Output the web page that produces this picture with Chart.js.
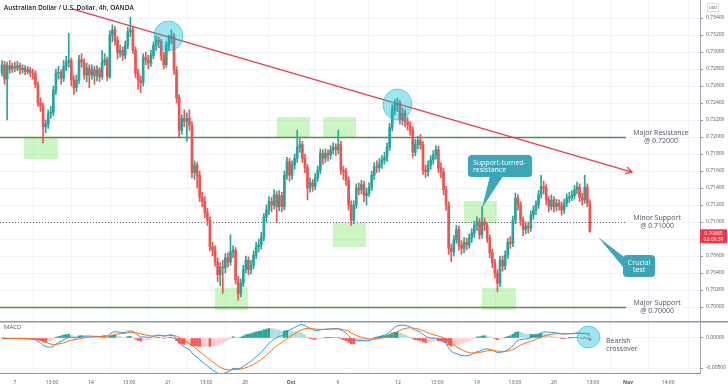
<!DOCTYPE html>
<html>
<head>
<meta charset="utf-8">
<script src="https://cdn.jsdelivr.net/npm/chart.js@4.4.0/dist/chart.umd.min.js"></script>
<style>
  html, body { margin: 0; padding: 0; background: #fff; }
  #wrap { position: relative; width: 728px; height: 391px; overflow: hidden; }
  #price { position: absolute; left: 0; top: 0; }
  #macd { position: absolute; left: 0; top: 321px; }
</style>
</head>
<body>
<div id="wrap">
  <canvas id="price" width="728" height="321"></canvas>
  <canvas id="macd" width="728" height="70"></canvas>
</div>
<script>
// AUD/USD 4h candles (open of each bar = previous close)
const firstOpen = 0.7276;
const closes = [
  0.7285,0.7268,0.7284,0.7280,0.7283,0.7281,0.7284,0.7279,0.7281,0.7277,
  0.7279,0.7276,0.7275,0.7262,0.7240,0.7237,0.7212,0.7215,0.7228,0.7229,
  0.7255,0.7275,0.7276,0.7269,0.7283,0.7288,0.7290,0.7267,0.7258,0.7267,
  0.7291,0.7288,0.7273,0.7281,0.7273,0.7279,0.7272,0.7279,0.7271,0.7288,
  0.7291,0.7271,0.7320,0.7326,0.7314,0.7299,0.7302,0.7296,0.7308,0.7324,
  0.7326,0.7302,0.7275,0.7267,0.7264,0.7294,0.7291,0.7287,0.7296,0.7308,
  0.7314,0.7312,0.7296,0.7285,0.7308,0.7316,0.7318,0.7279,0.7246,0.7208,
  0.7222,0.7218,0.7222,0.7214,0.7158,0.7167,0.7155,0.7129,0.7124,0.7111,
  0.7102,0.7071,0.7067,0.7053,0.7038,0.7047,0.7046,0.7058,0.7053,0.7065,
  0.7067,0.7032,0.7016,0.7028,0.7044,0.7055,0.7044,0.7049,0.7061,0.7071,
  0.7073,0.7082,0.7106,0.7114,0.7124,0.7120,0.7132,0.7118,0.7131,0.7118,
  0.7155,0.7171,0.7155,0.7167,0.7175,0.7188,0.7191,0.7175,0.7164,0.7140,
  0.7146,0.7142,0.7152,0.7161,0.7181,0.7175,0.7181,0.7179,0.7185,0.7188,
  0.7185,0.7191,0.7161,0.7159,0.7149,0.7120,0.7102,0.7120,0.7140,0.7138,
  0.7144,0.7131,0.7134,0.7141,0.7155,0.7165,0.7164,0.7169,0.7173,0.7176,
  0.7188,0.7211,0.7232,0.7238,0.7240,0.7220,0.7228,0.7218,0.7214,0.7208,
  0.7182,0.7191,0.7196,0.7191,0.7161,0.7159,0.7167,0.7173,0.7179,0.7185,
  0.7164,0.7159,0.7138,0.7120,0.7069,0.7065,0.7079,0.7091,0.7073,0.7069,
  0.7076,0.7073,0.7081,0.7087,0.7096,0.7100,0.7085,0.7100,0.7096,0.7081,
  0.7064,0.7052,0.7040,0.7028,0.7055,0.7048,0.7061,0.7076,0.7075,0.7102,
  0.7128,0.7120,0.7102,0.7091,0.7095,0.7093,0.7108,0.7114,0.7120,0.7132,
  0.7142,0.7140,0.7126,0.7118,0.7126,0.7118,0.7122,0.7119,0.7114,0.7122,
  0.7128,0.7129,0.7131,0.7138,0.7141,0.7129,0.7126,0.7141,0.7122,0.70885
];
const highs = [
  0.7290,0.7289,0.7288,0.7290,0.7287,0.7288,0.7289,0.7287,0.7285,0.7284,
  0.7283,0.7282,0.7280,0.7278,0.7265,0.7246,0.7240,0.7220,0.7232,0.7236,
  0.7260,0.7280,0.7283,0.7279,0.7290,0.7295,0.7322,0.7293,0.7272,0.7273,
  0.7296,0.7298,0.7292,0.7287,0.7285,0.7285,0.7283,0.7284,0.7282,0.7302,
  0.7298,0.7294,0.7325,0.7332,0.7330,0.7318,0.7308,0.7306,0.7313,0.7329,
  0.7341,0.7330,0.7306,0.7280,0.7272,0.7298,0.7300,0.7296,0.7302,0.7312,
  0.7319,0.7318,0.7315,0.7300,0.7312,0.7320,0.7326,0.7322,0.7283,0.7250,
  0.7226,0.7232,0.7228,0.7232,0.7218,0.7172,0.7170,0.7160,0.7135,0.7130,
  0.7116,0.7106,0.7076,0.7072,0.7058,0.7052,0.7055,0.7063,0.7064,0.7085,
  0.7072,0.7070,0.7036,0.7033,0.7049,0.7060,0.7059,0.7055,0.7066,0.7076,
  0.7080,0.7088,0.7110,0.7120,0.7130,0.7129,0.7138,0.7136,0.7137,0.7135,
  0.7160,0.7176,0.7175,0.7172,0.7180,0.7208,0.7198,0.7195,0.7180,0.7168,
  0.7152,0.7150,0.7157,0.7166,0.7186,0.7185,0.7186,0.7185,0.7190,0.7193,
  0.7192,0.7208,0.7195,0.7166,0.7163,0.7153,0.7125,0.7125,0.7145,0.7146,
  0.7149,0.7148,0.7140,0.7146,0.7160,0.7170,0.7172,0.7175,0.7178,0.7182,
  0.7193,0.7216,0.7238,0.7244,0.7246,0.7243,0.7234,0.7232,0.7223,0.7218,
  0.7212,0.7197,0.7201,0.7203,0.7195,0.7167,0.7172,0.7178,0.7184,0.7190,
  0.7189,0.7170,0.7163,0.7142,0.7124,0.7074,0.7084,0.7096,0.7095,0.7078,
  0.7082,0.7081,0.7086,0.7092,0.7101,0.7106,0.7104,0.7118,0.7105,0.7099,
  0.7085,0.7068,0.7056,0.7044,0.7060,0.7060,0.7066,0.7081,0.7083,0.7107,
  0.7134,0.7132,0.7124,0.7106,0.7100,0.7100,0.7113,0.7119,0.7125,0.7137,
  0.7155,0.7148,0.7144,0.7130,0.7132,0.7130,0.7127,0.7126,0.7124,0.7127,
  0.7133,0.7135,0.7137,0.7143,0.7147,0.7145,0.7134,0.7155,0.7145,0.7126
];
const lows = [
  0.7272,0.7262,0.7220,0.7275,0.7276,0.7277,0.7278,0.7274,0.7275,0.7273,
  0.7274,0.7271,0.7268,0.7258,0.7236,0.7230,0.7193,0.7205,0.7210,0.7222,
  0.7225,0.7250,0.7268,0.7262,0.7265,0.7278,0.7282,0.7260,0.7250,0.7253,
  0.7263,0.7282,0.7268,0.7265,0.7258,0.7268,0.7262,0.7266,0.7265,0.7268,
  0.7284,0.7266,0.7269,0.7312,0.7308,0.7292,0.7294,0.7290,0.7292,0.7304,
  0.7318,0.7298,0.7270,0.7256,0.7252,0.7260,0.7285,0.7280,0.7283,0.7292,
  0.7302,0.7305,0.7290,0.7280,0.7282,0.7302,0.7310,0.7274,0.7240,0.7200,
  0.7203,0.7212,0.7195,0.7208,0.7152,0.7150,0.7140,0.7124,0.7118,0.7105,
  0.7096,0.7066,0.7060,0.7048,0.7030,0.7025,0.7016,0.7040,0.7047,0.7049,
  0.7058,0.7027,0.7008,0.7012,0.7024,0.7040,0.7038,0.7039,0.7045,0.7057,
  0.7065,0.7068,0.7078,0.7100,0.7109,0.7112,0.7115,0.7100,0.7113,0.7112,
  0.7114,0.7150,0.7148,0.7150,0.7162,0.7170,0.7182,0.7170,0.7158,0.7126,
  0.7135,0.7136,0.7138,0.7148,0.7157,0.7168,0.7170,0.7172,0.7174,0.7180,
  0.7178,0.7180,0.7156,0.7150,0.7143,0.7114,0.7096,0.7098,0.7116,0.7132,
  0.7133,0.7124,0.7120,0.7130,0.7137,0.7150,0.7158,0.7159,0.7163,0.7168,
  0.7171,0.7184,0.7207,0.7226,0.7230,0.7215,0.7214,0.7212,0.7208,0.7202,
  0.7176,0.7178,0.7186,0.7186,0.7156,0.7152,0.7154,0.7162,0.7168,0.7174,
  0.7158,0.7152,0.7132,0.7114,0.7062,0.7053,0.7060,0.7075,0.7067,0.7062,
  0.7064,0.7067,0.7069,0.7076,0.7082,0.7090,0.7080,0.7081,0.7090,0.7076,
  0.7058,0.7046,0.7034,0.7018,0.7024,0.7042,0.7044,0.7057,0.7069,0.7071,
  0.7098,0.7114,0.7096,0.7084,0.7086,0.7087,0.7089,0.7103,0.7109,0.7116,
  0.7128,0.7133,0.7120,0.7112,0.7114,0.7112,0.7113,0.7114,0.7108,0.7110,
  0.7118,0.7123,0.7125,0.7127,0.7133,0.7124,0.7120,0.7122,0.7118,0.7088
];

// time axis: bar index of each label
const xTickPos = [5, 19.5, 34.7, 49.5, 64.7, 79.5, 94.7, 112.6, 130.9, 154.3, 169.5, 185, 199.8, 215, 230.2, 243.9, 259.5];
const xTickLabels = ['7','13:00','14','13:00','21','13:00','28','Oct','6','12','13:00','19','13:00','26','13:00','Nov','14:00'];
const priceTicks = [0.700,0.702,0.704,0.706,0.708,0.710,0.712,0.714,0.716,0.718,0.720,0.722,0.724,0.726,0.728,0.730,0.732,0.734];
const macdTicks = [0, -0.005];

// drawings on the chart (bar index / price)
const levels = [0.72, 0.71, 0.70];
const levelNames = ['Major Resistance', 'Minor Support', 'Major Support'];
const zones = [ // [i1, i2, p1, p2]
  [8.6, 21.8, 0.71988, 0.71741],
  [83.0, 95.8, 0.70224, 0.69965],
  [107.1, 120.0, 0.72235, 0.72000],
  [125.0, 137.9, 0.72235, 0.72000],
  [128.9, 141.8, 0.70988, 0.70706],
  [180.0, 192.8, 0.71247, 0.70988],
  [187.0, 200.2, 0.70224, 0.69965]
];
const trend = [[27.3, 0.73506], [245.4, 0.71588]];
const rings = [[59.2, 70.5, 0.73365, 0.73012], [148.4, 159.7, 0.72565, 0.72200]];

const FONT = "'Open Sans', sans-serif";
const UP = '#26a69a', DN = '#ef5350';
const xMin = -0.78, xMax = 271.9;

const idx = closes.map((c, i) => i);
const opens = closes.map((c, i) => i === 0 ? firstOpen : closes[i - 1]);
const hi = idx.map(i => Math.max(highs[i], opens[i], closes[i]));
const lo = idx.map(i => Math.min(lows[i], opens[i], closes[i]));
const candleColors = idx.map(i => closes[i] >= opens[i] ? UP : DN);

// MACD 12/26/9 from the closes
function ema(arr, n) {
  const k = 2 / (n + 1), out = [];
  arr.forEach((v, i) => out.push(i ? v * k + out[i - 1] * (1 - k) : v));
  return out;
}
const e12 = ema(closes, 12), e26 = ema(closes, 26);
const macd = idx.map(i => e12[i] - e26[i]);
const signal = ema(macd, 9);
const hist = idx.map(i => macd[i] - signal[i]);
const histColors = hist.map((h, i) => {
  const p = i ? hist[i - 1] : 0;
  if (h >= 0) return h > p ? '#26a69a' : '#b2dfdb';
  return h < p ? '#ff5252' : '#ffcdd2';
});

function txt(ctx, s, x, y, size, color, align, weight) {
  ctx.font = (weight || 'normal') + ' ' + size + 'px ' + FONT;
  ctx.fillStyle = color;
  ctx.textAlign = align || 'left';
  ctx.textBaseline = 'middle';
  ctx.fillText(s, x, y);
}

function roundRect(ctx, x, y, w, h, r) {
  ctx.beginPath();
  ctx.moveTo(x + r, y);
  ctx.arcTo(x + w, y, x + w, y + h, r);
  ctx.arcTo(x + w, y + h, x, y + h, r);
  ctx.arcTo(x, y + h, x, y, r);
  ctx.arcTo(x, y, x + w, y, r);
  ctx.closePath();
}

const priceDeco = {
  id: 'priceDeco',
  beforeDatasetsDraw(chart) {
    const { ctx, scales: { x, y } } = chart;
    ctx.save();
    ctx.fillStyle = 'rgba(120,230,100,0.38)';
    zones.forEach(z => {
      const x1 = x.getPixelForValue(z[0]), x2 = x.getPixelForValue(z[1]);
      const y1 = y.getPixelForValue(z[2]), y2 = y.getPixelForValue(z[3]);
      ctx.fillRect(x1, y1, x2 - x1, y2 - y1);
    });
    const xEnd = x.getPixelForValue(243.1);
    levels.forEach((lv, k) => {
      const py = Math.round(y.getPixelForValue(lv)) + 0.5;
      ctx.beginPath();
      ctx.moveTo(x.left, py);
      ctx.lineTo(xEnd, py);
      if (k === 1) {
        ctx.strokeStyle = '#5d606b';
        ctx.lineWidth = 1;
        ctx.setLineDash([1, 2]);
      } else {
        ctx.strokeStyle = '#5b8a48';
        ctx.lineWidth = 1.5;
        ctx.setLineDash([]);
      }
      ctx.stroke();
    });
    ctx.setLineDash([]);
    ctx.restore();
  },
  afterDatasetsDraw(chart) {
    const { ctx, scales: { x, y } } = chart;
    ctx.save();
    // falling trend line with open arrow head
    const ax = x.getPixelForValue(trend[0][0]), ay = y.getPixelForValue(trend[0][1]);
    const bx = x.getPixelForValue(trend[1][0]), by = y.getPixelForValue(trend[1][1]);
    ctx.strokeStyle = '#f0394b';
    ctx.lineWidth = 1.3;
    ctx.beginPath();
    ctx.moveTo(ax, ay);
    ctx.lineTo(bx, by);
    const ang = Math.atan2(by - ay, bx - ax);
    ctx.moveTo(bx - 7 * Math.cos(ang - 0.5), by - 7 * Math.sin(ang - 0.5));
    ctx.lineTo(bx, by);
    ctx.lineTo(bx - 7 * Math.cos(ang + 0.5), by - 7 * Math.sin(ang + 0.5));
    ctx.stroke();

    // highlight rings
    rings.forEach(r => {
      const x1 = x.getPixelForValue(r[0]), x2 = x.getPixelForValue(r[1]);
      const y1 = y.getPixelForValue(r[2]), y2 = y.getPixelForValue(r[3]);
      ctx.beginPath();
      ctx.ellipse((x1 + x2) / 2, (y1 + y2) / 2, (x2 - x1) / 2, (y2 - y1) / 2, 0, 0, Math.PI * 2);
      ctx.fillStyle = 'rgba(0,188,212,0.38)';
      ctx.fill();
      ctx.strokeStyle = 'rgba(0,188,212,0.55)';
      ctx.lineWidth = 1;
      ctx.stroke();
    });

    // callouts
    const teal = '#3ba6b7';
    let bx1 = x.getPixelForValue(181.5), bx2 = x.getPixelForValue(206.5);
    let by1 = y.getPixelForValue(0.71788), by2 = y.getPixelForValue(0.71529);
    ctx.fillStyle = teal;
    roundRect(ctx, bx1, by1, bx2 - bx1, by2 - by1, 4);
    ctx.fill();
    ctx.beginPath();
    ctx.moveTo(x.getPixelForValue(190.1), by2 - 1);
    ctx.lineTo(x.getPixelForValue(187), y.getPixelForValue(0.71165));
    ctx.lineTo(x.getPixelForValue(195.2), by2 - 1);
    ctx.closePath();
    ctx.fill();
    txt(ctx, 'Support-turned-', bx1 + 5, by1 + 7.5, 7, '#fff');
    txt(ctx, 'resistance', bx1 + 5, by1 + 14.5, 7, '#fff');

    bx1 = x.getPixelForValue(241.9); bx2 = x.getPixelForValue(254.4);
    by1 = y.getPixelForValue(0.70612); by2 = y.getPixelForValue(0.70353);
    ctx.fillStyle = teal;
    roundRect(ctx, bx1, by1, bx2 - bx1, by2 - by1, 4);
    ctx.fill();
    ctx.beginPath();
    ctx.moveTo(bx1 + 1, y.getPixelForValue(0.70588));
    ctx.lineTo(x.getPixelForValue(232.2), y.getPixelForValue(0.70824));
    ctx.lineTo(bx1 + 1, y.getPixelForValue(0.70459));
    ctx.closePath();
    ctx.fill();
    const cx = (bx1 + bx2) / 2;
    txt(ctx, 'Crucial', cx, by1 + 8, 7, '#fff', 'center');
    txt(ctx, 'test', cx, by1 + 15, 7, '#fff', 'center');

    // level captions
    const capX = [256.7, 255.2, 255.2];
    levels.forEach((lv, k) => {
      const px = x.getPixelForValue(capX[k]), py = y.getPixelForValue(lv);
      txt(ctx, levelNames[k], px, py - 4, 7, '#4c525e', 'center');
      txt(ctx, '@ ' + lv.toFixed(5), px, py + 4, 7, '#4c525e', 'center');
    });
    ctx.restore();
  },
  afterDraw(chart) {
    const { ctx, chartArea, scales: { y } } = chart;
    ctx.save();
    txt(ctx, 'Australian Dollar / U.S. Dollar, 4h, OANDA', chartArea.left + 4, 8, 6.5, '#131722', 'left', '600');
    // USD badge
    ctx.fillStyle = '#fff';
    ctx.fillRect(707, 3, 11, 8);
    ctx.strokeStyle = '#d1d4dc';
    ctx.lineWidth = 0.8;
    ctx.strokeRect(707.5, 3.5, 11, 8);
    txt(ctx, 'USD', 713, 7.6, 4.2, '#50535e', 'center');
    // last price tag
    const last = closes[closes.length - 1];
    const py = y.getPixelForValue(last);
    ctx.fillStyle = '#f23645';
    ctx.fillRect(chartArea.right, py - 2.5, 27, 14);
    txt(ctx, last.toFixed(5), chartArea.right + 13.5, py + 1.5, 5, '#fff', 'center');
    txt(ctx, '02:09:39', chartArea.right + 13.5, py + 8.3, 5, '#fff', 'center');
    ctx.restore();
  }
};

new Chart(document.getElementById('price'), {
  type: 'bar',
  data: {
    datasets: [
      { data: idx.map(i => ({ x: i, y: [lo[i], hi[i]] })), backgroundColor: candleColors, barThickness: 1, grouped: false, order: 2 },
      { data: idx.map(i => ({ x: i, y: [opens[i], closes[i]] })), backgroundColor: candleColors, barThickness: 2, minBarLength: 1, grouped: false, order: 1 }
    ]
  },
  options: {
    responsive: false,
    animation: false,
    events: [],
    layout: { padding: 0 },
    plugins: { legend: { display: false }, tooltip: { enabled: false } },
    scales: {
      x: {
        type: 'linear', min: xMin, max: xMax, offset: false,
        afterBuildTicks: s => { s.ticks = xTickPos.map(v => ({ value: v })); },
        afterFit: s => { s.height = 0; s.paddingLeft = 0; s.paddingRight = 0; },
        ticks: { display: false },
        grid: { color: '#f0f3fa', drawTicks: false },
        border: { display: false }
      },
      y: {
        position: 'right', min: 0.698353, max: 0.736118,
        afterBuildTicks: s => { s.ticks = priceTicks.map(v => ({ value: v })); },
        afterFit: s => { s.width = 28; s.paddingTop = 0; s.paddingBottom = 0; },
        ticks: { color: '#50535e', padding: 3, font: { family: FONT, size: 5 }, callback: v => v.toFixed(5) },
        grid: { color: '#f0f3fa', tickLength: 3, tickColor: '#9598a1' },
        border: { color: '#a3a6af' }
      }
    }
  },
  plugins: [priceDeco]
});

const macdDeco = {
  id: 'macdDeco',
  afterDatasetsDraw(chart) {
    const { ctx, scales: { x, y } } = chart;
    ctx.save();
    const x1 = x.getPixelForValue(224), x2 = x.getPixelForValue(232.9);
    const y1 = y.getPixelForValue(0.002), y2 = y.getPixelForValue(-0.001667);
    ctx.beginPath();
    ctx.ellipse((x1 + x2) / 2, (y1 + y2) / 2, (x2 - x1) / 2, (y2 - y1) / 2, 0, 0, Math.PI * 2);
    ctx.fillStyle = 'rgba(0,188,212,0.38)';
    ctx.fill();
    ctx.strokeStyle = 'rgba(0,188,212,0.55)';
    ctx.stroke();
    const tx = x.getPixelForValue(235.3);
    txt(ctx, 'Bearish', tx, y.getPixelForValue(-0.0005), 7, '#4c525e');
    txt(ctx, 'crossover', tx, y.getPixelForValue(-0.001833), 7, '#4c525e');
    ctx.restore();
  },
  afterDraw(chart) {
    const { ctx, chartArea } = chart;
    ctx.save();
    ctx.fillStyle = '#9598a1';
    ctx.fillRect(0, 0, 728, 1.5);
    txt(ctx, 'MACD', chartArea.left + 4, 6.5, 6, '#50535e');
    ctx.restore();
  }
};

new Chart(document.getElementById('macd'), {
  type: 'bar',
  data: {
    datasets: [
      { type: 'line', data: idx.map(i => ({ x: i, y: signal[i] })), borderColor: '#ff6d00', borderWidth: 1, pointRadius: 0, order: 1 },
      { type: 'line', data: idx.map(i => ({ x: i, y: macd[i] })), borderColor: '#2196f3', borderWidth: 1, pointRadius: 0, order: 2 },
      { data: idx.map(i => ({ x: i, y: hist[i] })), backgroundColor: histColors, barThickness: 2, grouped: false, order: 3 }
    ]
  },
  options: {
    responsive: false,
    animation: false,
    events: [],
    layout: { padding: 0 },
    plugins: { legend: { display: false }, tooltip: { enabled: false } },
    scales: {
      x: {
        type: 'linear', min: xMin, max: xMax, offset: false,
        afterBuildTicks: s => { s.ticks = xTickPos.map(v => ({ value: v })); },
        afterFit: s => { s.height = 18; s.paddingLeft = 0; s.paddingRight = 0; },
        ticks: {
          autoSkip: false, maxRotation: 0, padding: 7, color: '#50535e',
          font: c => ({ family: FONT, size: 5, weight: /^[A-Z]/.test(xTickLabels[c.index] || '') ? 'bold' : 'normal' }),
          callback: (v, i) => xTickLabels[i]
        },
        grid: { color: '#f0f3fa', drawTicks: false },
        border: { color: '#9598a1' }
      },
      y: {
        position: 'right', min: -0.0058333, max: 0.0028333,
        afterBuildTicks: s => { s.ticks = macdTicks.map(v => ({ value: v })); },
        afterFit: s => { s.width = 28; s.paddingTop = 0; s.paddingBottom = 0; },
        ticks: { color: '#50535e', padding: 3, font: { family: FONT, size: 5 }, callback: v => v.toFixed(5) },
        grid: { color: '#f0f3fa', tickLength: 3, tickColor: '#9598a1' },
        border: { color: '#a3a6af' }
      }
    }
  },
  plugins: [macdDeco]
});
</script>
</body>
</html>
